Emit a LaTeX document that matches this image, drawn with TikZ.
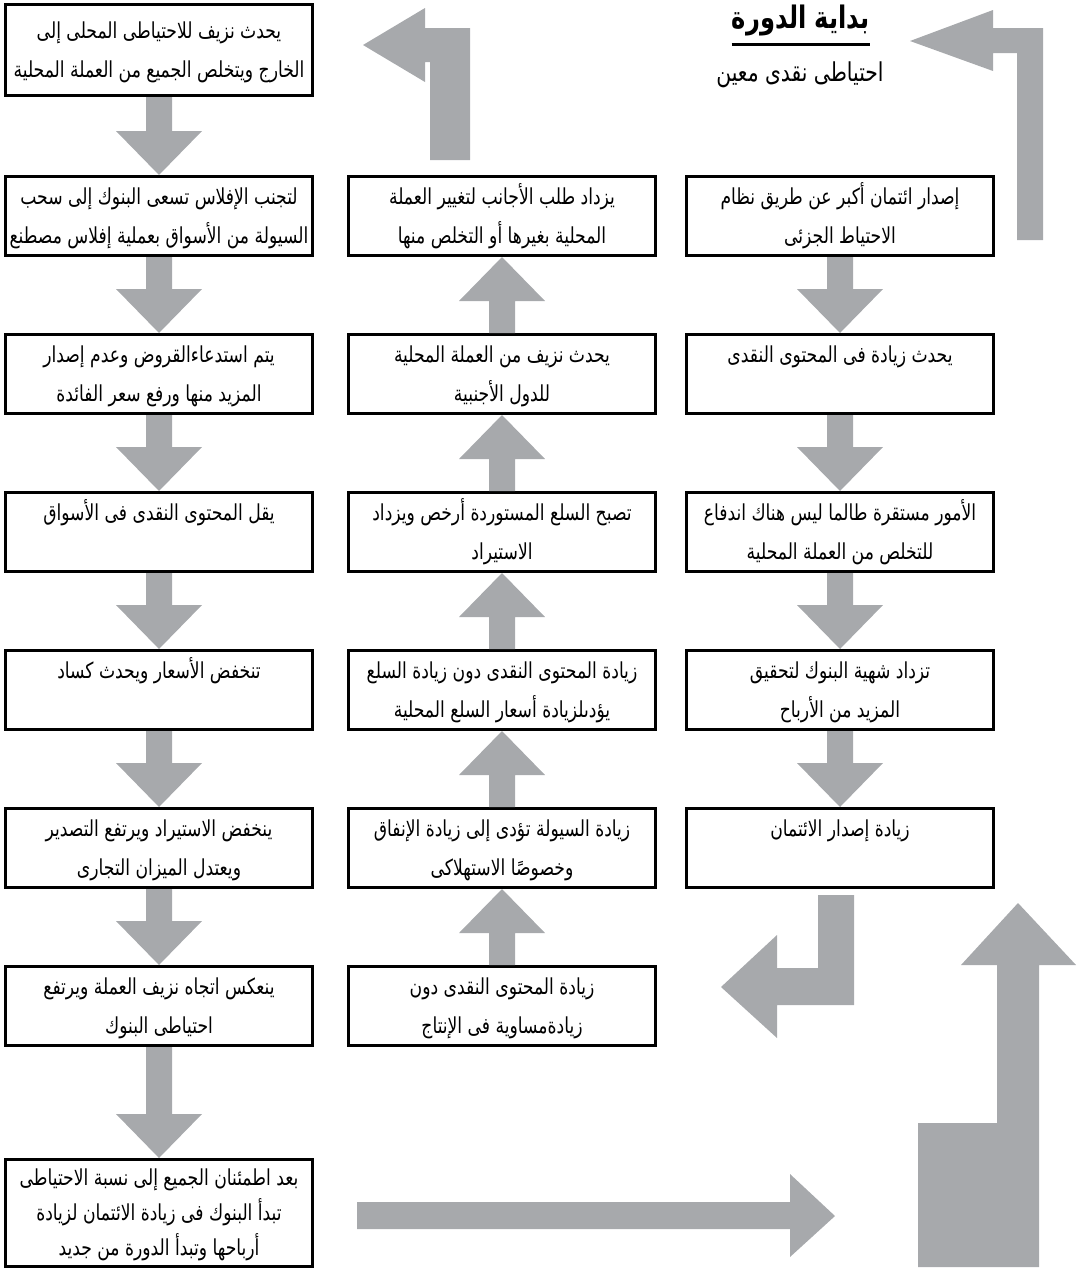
\documentclass[tikz,border=0pt]{standalone}
\usepackage{fontspec}
\usepackage{tikz}
\usetikzlibrary{positioning, calc}
\TeXXeTstate=1
\newfontfamily\arabicfont[Script=Arabic, FakeStretch=0.78]{DejaVu Sans}
\definecolor{arrowgray}{RGB}{167,169,172}
\newcommand{\ar}[1]{\strut\beginR #1\endR}
\tikzstyle{blockarrow} = [fill=arrowgray, draw=none]
\tikzstyle{cell} = [rectangle, draw=black, line width=1.4pt, minimum width=153.6pt, minimum height=39.6pt, inner xsep=2pt, inner ysep=0pt, align=center, font=\arabicfont\fontsize{11}{19.5}\selectfont]
% block arrow from the bottom of #1 down to the top of #2
\newcommand{\flowdown}[2]{%
  \fill[blockarrow] ($(#1.south)+(-13,0)$) -- ($(#1.south)+(13,0)$) -- ($(#2.north)+(13,-44)$) -- ($(#2.north)+(43,-44)$) -- (#2.north) -- ($(#2.north)+(-43,-44)$) -- ($(#2.north)+(-13,-44)$) -- cycle;}
% block arrow from the top of #1 up to the bottom of #2
\newcommand{\flowup}[2]{%
  \fill[blockarrow] ($(#1.north)+(-13,0)$) -- ($(#1.north)+(13,0)$) -- ($(#2.south)+(13,44)$) -- ($(#2.south)+(43,44)$) -- (#2.south) -- ($(#2.south)+(-43,44)$) -- ($(#2.south)+(-13,44)$) -- cycle;}

\begin{document}
\begin{tikzpicture}[x=0.5pt, y=-0.5pt,
headnode/.style={inner sep=0pt, font=\arabicfont\bfseries\fontsize{15.5}{18}\selectfont},
subnode/.style={inner sep=0pt, font=\arabicfont\fontsize{13}{16}\selectfont},
tallcell/.style={cell, minimum height=53.6pt, font=\arabicfont\fontsize{11}{17.5}\selectfont}
]
\useasboundingbox (0,0) rectangle (1082,1280);

% right column
\node[cell] (r1) at (840,216) {\ar{إصدار ائتمان أكبر عن طريق نظام}\\\ar{الاحتياط الجزئى}};
\node[cell] (r2) [below=38pt of r1] {\ar{يحدث زيادة فى المحتوى النقدى}\\\strut};
\node[cell] (r3) [below=38pt of r2] {\ar{الأمور مستقرة طالما ليس هناك اندفاع}\\\ar{للتخلص من العملة المحلية}};
\node[cell] (r4) [below=38pt of r3] {\ar{تزداد شهية البنوك لتحقيق}\\\ar{المزيد من الأرباح}};
\node[cell] (r5) [below=38pt of r4] {\ar{زيادة إصدار الائتمان}\\\strut};

% middle column
\node[cell] (m1) [left=14pt of r1] {\ar{يزداد طلب الأجانب لتغيير العملة}\\\ar{المحلية بغيرها أو التخلص منها}};
\node[cell] (m2) [below=38pt of m1] {\ar{يحدث نزيف من العملة المحلية}\\\ar{للدول الأجنبية}};
\node[cell] (m3) [below=38pt of m2] {\ar{تصبح السلع المستوردة أرخص ويزداد}\\\ar{الاستيراد}};
\node[cell] (m4) [below=38pt of m3] {\ar{زيادة المحتوى النقدى دون زيادة السلع}\\\ar{يؤدىلزيادة أسعار السلع المحلية}};
\node[cell] (m5) [below=38pt of m4] {\ar{زيادة السيولة تؤدى إلى زيادة الإنفاق}\\\ar{وخصوصًا الاستهلاكى}};
\node[cell] (m6) [below=38pt of m5] {\ar{زيادة المحتوى النقدى دون}\\\ar{زيادةمساوية فى الإنتاج}};

% left column
\node[cell] (l1) [left=16.5pt of m1] {\ar{لتجنب الإفلاس تسعى البنوك إلى سحب}\\\ar{السيولة من الأسواق بعملية إفلاس مصطنع}};
\node[cell, minimum height=45.6pt] (l0) [above=39pt of l1] {\ar{يحدث نزيف للاحتياطى المحلى إلى}\\\ar{الخارج ويتخلص الجميع من العملة المحلية}};
\node[cell] (l2) [below=38pt of l1] {\ar{يتم استدعاءالقروض وعدم إصدار}\\\ar{المزيد منها ورفع سعر الفائدة}};
\node[cell] (l3) [below=38pt of l2] {\ar{يقل المحتوى النقدى فى الأسواق}\\\strut};
\node[cell] (l4) [below=38pt of l3] {\ar{تنخفض الأسعار ويحدث كساد}\\\strut};
\node[cell] (l5) [below=38pt of l4] {\ar{ينخفض الاستيراد ويرتفع التصدير}\\\ar{ويعتدل الميزان التجارى}};
\node[cell] (l6) [below=38pt of l5] {\ar{ينعكس اتجاه نزيف العملة ويرتفع}\\\ar{احتياطى البنوك}};
\node[tallcell] (l7) [below=55.5pt of l6] {\ar{بعد اطمئنان الجميع إلى نسبة الاحتياطى}\\\ar{تبدأ البنوك فى زيادة الائتمان لزيادة}\\\ar{أرباحها وتبدأ الدورة من جديد}};

% heading
\node[headnode] (title) at (801,21) {\beginR بداية الدورة\endR};
\draw[line width=1.5pt] ([yshift=-4pt]title.south west) -- ([yshift=-4pt]title.south east);
\node[subnode] (reserve) at (800,75) {\beginR احتياطى نقدى معين\endR};

% arrows between boxes
\flowdown{r1}{r2}
\flowdown{r2}{r3}
\flowdown{r3}{r4}
\flowdown{r4}{r5}
\flowup{m6}{m5}
\flowup{m5}{m4}
\flowup{m4}{m3}
\flowup{m3}{m2}
\flowup{m2}{m1}
\flowdown{l0}{l1}
\flowdown{l1}{l2}
\flowdown{l2}{l3}
\flowdown{l3}{l4}
\flowdown{l4}{l5}
\flowdown{l5}{l6}
\flowdown{l6}{l7}

% large turning arrows
\fill[blockarrow] (910,41) -- (993,10) -- (993,28) -- (1043,28) -- (1043,240) -- (1017,240) -- (1017,53) -- (993,53) -- (993,71) -- cycle;
\fill[blockarrow] (363,45) -- (425,8) -- (425,28) -- (470,28) -- (470,160) -- (430,160) -- (430,62) -- (425,62) -- (425,82) -- cycle;
\fill[blockarrow] (721,987) -- (777,935) -- (777,968) -- (818,968) -- (818,895) -- (854,895) -- (854,1005) -- (777,1005) -- (777,1038) -- cycle;
\fill[blockarrow] (835,1216) -- (790,1174) -- (790,1202) -- (357,1202) -- (357,1229) -- (790,1229) -- (790,1257) -- cycle;
\fill[blockarrow] (1018,903) -- (1076,965) -- (1039,965) -- (1039,1267) -- (918,1267) -- (918,1123) -- (997,1123) -- (997,965) -- (961,965) -- cycle;
\end{tikzpicture}
\end{document}
